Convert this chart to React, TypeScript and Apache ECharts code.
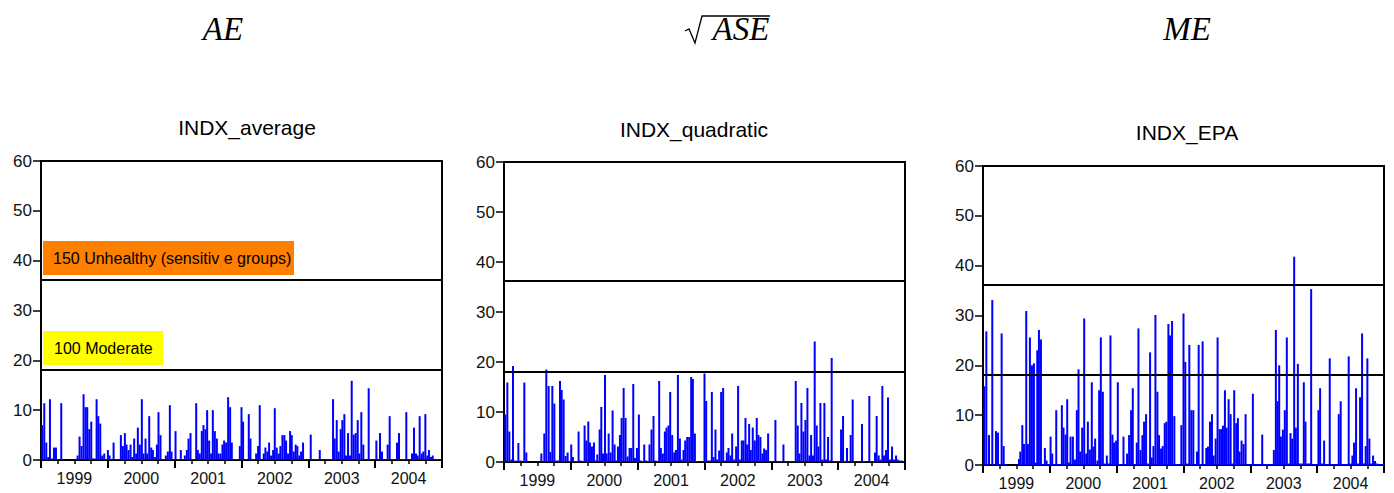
import React, { useEffect, useRef } from 'react';
import * as echarts from 'echarts';

const yearLabels = ['1999', '2000', '2001', '2002', '2003', '2004'];
const yearLabelPositions = [1999.5, 2000.5, 2001.5, 2002.5, 2003.5, 2004.5];
const panelTitles = ['INDX_average', 'INDX_quadratic', 'INDX_EPA'];
const thresholds = [18.1, 36.2];
const bandLabels = ['150 Unhealthy (sensitiv e groups)', '100 Moderate'];

// [decimal year, value]
const avgData: [number, number][] = [
  [1999.019, 7.0], [1999.049, 11.4], [1999.079, 3.5], [1999.109, 0.6], [1999.134, 12.2], [1999.164, 0.3], [1999.194, 2.5], [1999.224, 2.5], [1999.249, 0.2], [1999.303, 11.4], [1999.338, 0.2],
  [1999.548, 0.9], [1999.577, 4.7], [1999.607, 2.8], [1999.637, 13.2], [1999.667, 10.6], [1999.692, 10.6], [1999.722, 6.2], [1999.752, 7.7], [1999.777, 0.3], [1999.802, 0.3], [1999.832, 12.2], [1999.857, 8.8], [1999.887, 7.3], [1999.916, 0.9], [1999.946, 1.3], [1999.971, 0.2],
  [2000.001, 2.0], [2000.026, 0.9], [2000.056, 0.2], [2000.086, 3.5], [2000.116, 0.2], [2000.146, 0.2], [2000.170, 0.2], [2000.195, 5.0], [2000.225, 2.8], [2000.255, 5.4], [2000.280, 3.1], [2000.310, 2.0], [2000.340, 3.1], [2000.365, 0.6], [2000.394, 4.3], [2000.424, 1.3], [2000.449, 6.5], [2000.479, 3.1], [2000.509, 12.2], [2000.534, 1.3], [2000.564, 4.3], [2000.589, 1.3], [2000.619, 8.8], [2000.649, 2.5], [2000.674, 2.0], [2000.704, 0.6], [2000.734, 3.1], [2000.758, 9.6], [2000.788, 5.0], [2000.818, 0.2], [2000.843, 0.2], [2000.868, 0.9], [2000.898, 1.7], [2000.928, 11.0], [2000.953, 1.7], [2000.983, 0.2],
  [2001.013, 5.8], [2001.038, 0.2], [2001.063, 0.2], [2001.092, 2.0], [2001.122, 0.2], [2001.152, 0.9], [2001.182, 2.0], [2001.207, 4.3], [2001.237, 5.4], [2001.267, 0.2], [2001.292, 0.2], [2001.322, 11.4], [2001.347, 2.0], [2001.376, 1.3], [2001.406, 5.8], [2001.431, 7.0], [2001.461, 6.2], [2001.486, 10.0], [2001.516, 3.9], [2001.546, 1.3], [2001.571, 10.0], [2001.601, 5.8], [2001.631, 4.3], [2001.655, 1.3], [2001.685, 1.3], [2001.715, 3.1], [2001.740, 3.9], [2001.770, 3.5], [2001.800, 12.6], [2001.830, 10.6], [2001.855, 3.5], [2001.885, 0.2], [2001.915, 0.2], [2001.945, 0.2], [2001.975, 2.8],
  [2002.000, 10.6], [2002.024, 7.7], [2002.054, 0.2], [2002.079, 0.2], [2002.109, 9.2], [2002.134, 4.3], [2002.164, 0.2], [2002.194, 0.2], [2002.219, 1.3], [2002.248, 2.8], [2002.273, 11.0], [2002.303, 0.2], [2002.333, 1.3], [2002.358, 2.5], [2002.388, 1.7], [2002.413, 3.5], [2002.443, 0.9], [2002.473, 2.0], [2002.498, 10.4], [2002.527, 2.5], [2002.557, 1.3], [2002.582, 2.8], [2002.612, 5.0], [2002.642, 5.0], [2002.667, 3.9], [2002.697, 1.3], [2002.727, 5.8], [2002.752, 5.0], [2002.782, 1.7], [2002.811, 3.1], [2002.836, 2.8], [2002.866, 0.9], [2002.891, 1.7], [2002.921, 3.5], [2002.951, 0.2], [2002.976, 0.2],
  [2003.006, 0.2], [2003.036, 5.1], [2003.066, 0.2], [2003.091, 0.2], [2003.116, 0.2], [2003.141, 0.2], [2003.171, 2.0], [2003.200, 0.2], [2003.230, 0.2], [2003.260, 0.2], [2003.290, 0.2], [2003.320, 0.2], [2003.345, 0.2], [2003.370, 12.2], [2003.395, 4.3], [2003.425, 8.0], [2003.454, 1.7], [2003.484, 6.2], [2003.509, 8.0], [2003.539, 9.2], [2003.564, 0.9], [2003.594, 5.4], [2003.624, 0.9], [2003.649, 15.9], [2003.679, 5.1], [2003.709, 5.4], [2003.739, 8.0], [2003.763, 1.3], [2003.793, 9.6], [2003.823, 3.1], [2003.848, 0.2], [2003.873, 0.2], [2003.903, 14.4], [2003.933, 0.2], [2003.963, 0.2], [2003.988, 0.2],
  [2004.018, 3.9], [2004.047, 0.2], [2004.072, 5.4], [2004.102, 1.7], [2004.132, 0.2], [2004.160, 0.2], [2004.187, 3.1], [2004.217, 8.8], [2004.242, 0.2], [2004.270, 0.2], [2004.300, 0.2], [2004.327, 3.5], [2004.357, 5.4], [2004.387, 0.2], [2004.411, 0.2], [2004.440, 0.2], [2004.466, 9.6], [2004.496, 0.2], [2004.524, 0.2], [2004.551, 1.3], [2004.581, 6.5], [2004.611, 1.3], [2004.636, 0.9], [2004.666, 8.8], [2004.696, 1.3], [2004.721, 1.7], [2004.751, 9.2], [2004.781, 0.9], [2004.806, 2.0], [2004.836, 0.6], [2004.861, 0.9], [2004.891, 0.2], [2004.921, 0.2], [2004.951, 0.2], [2004.980, 0.2],
];

const quadData: [number, number][] = [
  [1999.020, 9.5], [1999.050, 15.9], [1999.080, 6.1], [1999.110, 0.5], [1999.135, 19.2], [1999.170, 0.3], [1999.215, 3.8], [1999.250, 0.3], [1999.304, 15.9], [1999.334, 1.9],
  [1999.559, 1.7], [1999.603, 5.7], [1999.633, 18.5], [1999.668, 15.2], [1999.693, 2.0], [1999.723, 15.2], [1999.753, 11.7], [1999.780, 0.3], [1999.809, 0.3], [1999.838, 16.2], [1999.863, 14.4], [1999.892, 12.5], [1999.922, 1.2], [1999.952, 1.9], [1999.980, 0.2],
  [2000.006, 3.5], [2000.031, 1.0], [2000.060, 0.2], [2000.090, 0.2], [2000.116, 6.1], [2000.147, 0.3], [2000.176, 0.2], [2000.206, 7.3], [2000.231, 4.3], [2000.261, 8.1], [2000.286, 3.9], [2000.316, 3.1], [2000.346, 3.9], [2000.371, 0.3], [2000.396, 1.5], [2000.431, 6.5], [2000.456, 11.0], [2000.481, 1.7], [2000.511, 17.4], [2000.536, 1.7], [2000.566, 5.7], [2000.595, 1.9], [2000.625, 10.3], [2000.655, 3.5], [2000.680, 0.3], [2000.705, 3.1], [2000.735, 5.4], [2000.760, 8.8], [2000.790, 14.8], [2000.819, 8.8], [2000.849, 1.1], [2000.879, 2.8], [2000.904, 2.8], [2000.934, 15.6], [2000.959, 0.8], [2000.989, 2.8],
  [2001.018, 9.5], [2001.043, 0.3], [2001.070, 0.2], [2001.098, 3.5], [2001.128, 0.3], [2001.152, 0.2], [2001.177, 3.5], [2001.207, 6.5], [2001.237, 9.2], [2001.267, 0.3], [2001.295, 0.2], [2001.322, 16.2], [2001.347, 2.8], [2001.377, 1.7], [2001.407, 6.1], [2001.432, 6.9], [2001.462, 7.3], [2001.487, 14.0], [2001.517, 5.4], [2001.547, 1.9], [2001.572, 2.4], [2001.602, 17.4], [2001.632, 4.7], [2001.656, 0.5], [2001.686, 2.4], [2001.711, 4.3], [2001.741, 5.0], [2001.771, 5.0], [2001.801, 17.0], [2001.826, 16.6], [2001.856, 5.7], [2001.886, 0.2], [2001.926, 0.2], [2001.966, 0.2],
  [2002.000, 17.7], [2002.025, 12.2], [2002.055, 0.3], [2002.085, 0.3], [2002.110, 14.0], [2002.135, 1.0], [2002.164, 6.5], [2002.189, 0.5], [2002.219, 2.3], [2002.249, 14.0], [2002.279, 14.8], [2002.304, 0.3], [2002.334, 1.9], [2002.359, 2.8], [2002.389, 1.3], [2002.414, 5.7], [2002.443, 0.5], [2002.473, 3.1], [2002.503, 15.2], [2002.528, 0.5], [2002.558, 4.3], [2002.583, 4.3], [2002.613, 8.8], [2002.638, 3.5], [2002.668, 7.6], [2002.693, 2.4], [2002.722, 6.9], [2002.752, 4.3], [2002.782, 8.8], [2002.807, 5.4], [2002.837, 5.0], [2002.867, 1.7], [2002.892, 2.7], [2002.922, 2.4], [2002.952, 5.7], [2002.977, 0.2],
  [2003.011, 0.2], [2003.036, 0.2], [2003.061, 8.4], [2003.100, 0.2], [2003.130, 0.2], [2003.155, 0.2], [2003.181, 3.5], [2003.206, 0.2], [2003.226, 0.2], [2003.251, 0.2], [2003.276, 0.2], [2003.300, 0.2], [2003.325, 0.2], [2003.345, 0.2], [2003.365, 16.2], [2003.395, 7.3], [2003.420, 1.7], [2003.450, 11.8], [2003.480, 6.1], [2003.510, 8.4], [2003.540, 14.8], [2003.570, 1.3], [2003.595, 5.4], [2003.624, 1.3], [2003.649, 24.1], [2003.679, 7.3], [2003.704, 3.1], [2003.734, 11.8], [2003.764, 0.5], [2003.794, 11.8], [2003.819, 0.5], [2003.849, 5.0], [2003.878, 0.3], [2003.903, 20.8], [2003.933, 0.2], [2003.953, 0.2], [2003.973, 0.2],
  [2004.008, 0.2], [2004.043, 6.5], [2004.073, 9.2], [2004.098, 0.2], [2004.132, 2.8], [2004.157, 0.2], [2004.187, 5.4], [2004.217, 12.5], [2004.257, 0.2], [2004.297, 0.2], [2004.327, 0.2], [2004.357, 7.6], [2004.387, 0.2], [2004.421, 0.2], [2004.445, 0.2], [2004.466, 13.2], [2004.496, 0.2], [2004.525, 0.2], [2004.551, 1.9], [2004.576, 9.2], [2004.606, 1.3], [2004.631, 0.5], [2004.661, 15.2], [2004.686, 1.3], [2004.716, 2.4], [2004.746, 12.9], [2004.776, 0.5], [2004.806, 3.1], [2004.836, 0.5], [2004.866, 1.3], [2004.890, 0.5], [2004.920, 0.3], [2004.950, 0.3], [2004.975, 0.2],
];

const epaData: [number, number][] = [
  [1999.020, 15.8], [1999.050, 26.8], [1999.090, 6.0], [1999.139, 33.1], [1999.194, 6.8], [1999.224, 6.5], [1999.279, 26.4], [1999.309, 3.8], [1999.339, 0.2],
  [1999.538, 1.2], [1999.558, 2.7], [1999.588, 8.0], [1999.613, 4.2], [1999.647, 30.9], [1999.672, 4.2], [1999.702, 25.6], [1999.732, 20.0], [1999.762, 20.4], [1999.787, 0.5], [1999.812, 23.0], [1999.837, 27.1], [1999.867, 25.2], [1999.896, 0.2], [1999.926, 3.4], [1999.951, 0.9], [1999.981, 0.2],
  [2000.011, 5.7], [2000.036, 2.3], [2000.066, 0.2], [2000.096, 11.0], [2000.126, 0.2], [2000.155, 0.2], [2000.180, 12.0], [2000.205, 7.5], [2000.235, 6.1], [2000.260, 13.2], [2000.285, 0.5], [2000.310, 5.7], [2000.345, 5.7], [2000.375, 1.1], [2000.404, 11.0], [2000.429, 19.2], [2000.454, 2.7], [2000.484, 7.5], [2000.514, 29.4], [2000.544, 2.3], [2000.569, 8.7], [2000.599, 3.1], [2000.628, 16.6], [2000.653, 3.7], [2000.678, 5.3], [2000.713, 0.9], [2000.738, 15.0], [2000.763, 25.6], [2000.793, 14.7], [2000.818, 0.3], [2000.853, 1.9], [2000.882, 0.3], [2000.907, 26.0], [2000.937, 6.1], [2000.962, 4.5], [2000.992, 4.9],
  [2001.017, 16.6], [2001.047, 0.2], [2001.072, 0.2], [2001.102, 5.7], [2001.127, 0.2], [2001.156, 2.3], [2001.186, 6.0], [2001.216, 11.0], [2001.241, 15.4], [2001.271, 0.2], [2001.301, 4.5], [2001.326, 27.4], [2001.356, 3.0], [2001.385, 6.0], [2001.410, 8.7], [2001.440, 10.2], [2001.465, 0.3], [2001.500, 22.6], [2001.525, 1.5], [2001.550, 3.8], [2001.580, 30.1], [2001.610, 14.7], [2001.634, 6.0], [2001.664, 3.3], [2001.689, 3.8], [2001.719, 8.4], [2001.744, 8.7], [2001.774, 28.3], [2001.799, 26.0], [2001.829, 28.9], [2001.863, 9.8], [2001.893, 0.2], [2001.933, 0.2], [2001.968, 8.0],
  [2002.000, 30.4], [2002.027, 20.7], [2002.057, 0.3], [2002.087, 24.1], [2002.117, 11.0], [2002.147, 11.0], [2002.172, 0.2], [2002.202, 2.7], [2002.227, 24.1], [2002.257, 0.2], [2002.286, 24.8], [2002.316, 0.2], [2002.341, 3.4], [2002.366, 3.7], [2002.396, 8.7], [2002.426, 10.2], [2002.451, 1.9], [2002.481, 5.3], [2002.510, 25.6], [2002.540, 7.2], [2002.565, 7.2], [2002.590, 7.9], [2002.620, 15.0], [2002.645, 7.5], [2002.675, 13.2], [2002.705, 10.2], [2002.730, 0.3], [2002.759, 15.0], [2002.789, 8.4], [2002.814, 9.4], [2002.839, 2.7], [2002.869, 4.9], [2002.899, 4.2], [2002.929, 10.2], [2002.959, 0.2], [2002.999, 0.2],
  [2003.038, 14.3], [2003.068, 0.2], [2003.098, 0.2], [2003.128, 0.2], [2003.153, 0.2], [2003.178, 6.1], [2003.208, 0.2], [2003.238, 0.2], [2003.268, 0.2], [2003.298, 0.2], [2003.328, 0.2], [2003.352, 3.0], [2003.382, 27.1], [2003.407, 12.8], [2003.432, 20.0], [2003.457, 5.7], [2003.487, 7.1], [2003.516, 11.0], [2003.546, 25.6], [2003.571, 0.3], [2003.601, 6.4], [2003.626, 5.3], [2003.656, 41.8], [2003.681, 7.5], [2003.711, 20.3], [2003.741, 0.3], [2003.770, 0.3], [2003.800, 16.6], [2003.825, 8.7], [2003.855, 0.3], [2003.880, 0.3], [2003.910, 35.3], [2003.940, 0.2], [2003.970, 0.2], [2003.995, 0.2],
  [2004.019, 11.0], [2004.044, 15.4], [2004.074, 0.3], [2004.104, 4.9], [2004.134, 0.2], [2004.163, 0.2], [2004.188, 21.4], [2004.218, 0.2], [2004.248, 0.2], [2004.293, 0.2], [2004.323, 10.2], [2004.352, 12.8], [2004.382, 0.2], [2004.412, 0.2], [2004.442, 0.2], [2004.472, 21.8], [2004.497, 0.3], [2004.527, 1.9], [2004.552, 4.5], [2004.582, 15.4], [2004.612, 0.3], [2004.642, 13.6], [2004.672, 26.4], [2004.701, 0.3], [2004.726, 3.8], [2004.751, 21.4], [2004.781, 5.3], [2004.811, 0.3], [2004.836, 1.9], [2004.866, 0.8], [2004.896, 0.3], [2004.925, 0.2], [2004.955, 0.2], [2004.985, 0.2],
];

const panelData = [avgData, quadData, epaData];

const SANS = '"Liberation Sans", Arial, Helvetica, sans-serif';
const SERIF = '"Liberation Serif", "Times New Roman", serif';

const grids = [
  { left: 41, top: 161, width: 401, height: 299 },
  { left: 504, top: 162, width: 401, height: 300 },
  { left: 983, top: 166, width: 401, height: 299 },
];
const titleCenters = [242, 689, 1182];
const titleTops = [112, 114, 117];

export default function App() {
  const ref = useRef<HTMLDivElement>(null);
  useEffect(() => {
    document.body.style.margin = '0';
    if (!ref.current) return;
    const chart = echarts.init(ref.current, undefined, { renderer: 'svg' });

    const xAxes = grids.map((_, i) => ({
      gridIndex: i,
      type: 'value',
      min: 1999,
      max: 2005,
      interval: 1,
      axisLine: { show: true, onZero: false, lineStyle: { color: '#000', width: 2 } },
      axisTick: { show: true, length: 8, lineStyle: { color: '#000', width: 2 } },
      minorTick: { show: true, splitNumber: 4, length: 4, lineStyle: { color: '#000', width: 1.5 } },
      splitLine: { show: false },
      minorSplitLine: { show: false },
      axisLabel: {
        customValues: yearLabelPositions,
        formatter: (v: number) => yearLabels[Math.floor(v) - 1999] ?? '',
        fontSize: 16,
        fontFamily: SANS,
        color: '#111',
        margin: 10,
      },
    }));

    const yAxes = grids.map((_, i) => ({
      gridIndex: i,
      type: 'value',
      min: 0,
      max: 60,
      interval: 10,
      axisLine: { show: true, lineStyle: { color: '#000', width: 2 } },
      axisTick: { show: true, length: 8, lineStyle: { color: '#000', width: 1.5 } },
      splitLine: { show: false },
      axisLabel: {
        fontSize: 17,
        fontFamily: SANS,
        color: '#111',
        margin: 9,
        padding: [0, 0, 6, 0],
      },
    }));

    const series = panelData.map((d, i) => ({
      type: 'bar',
      xAxisIndex: i,
      yAxisIndex: i,
      data: d,
      barWidth: 2,
      itemStyle: { color: '#0000ff' },
      markLine: {
        silent: true,
        symbol: 'none',
        label: { show: false },
        lineStyle: { color: '#000', width: 2, type: 'solid' },
        data: thresholds.map((v) => ({ yAxis: v })),
      },
    }));

    const titles: any[] = panelTitles.map((t, i) => ({
      text: t,
      left: titleCenters[i],
      top: titleTops[i],
      textAlign: 'center',
      textStyle: { fontFamily: SANS, fontSize: 21, fontWeight: 'normal', color: '#000' },
    }));
    const mathStyle = { fontFamily: SERIF, fontSize: 33, fontStyle: 'italic', fontWeight: 'normal', color: '#000' };
    titles.push({ text: 'AE', left: 218, top: 7, textAlign: 'center', textStyle: mathStyle });
    titles.push({ text: 'ASE', left: 736, top: 7, textAlign: 'center', textStyle: mathStyle });
    titles.push({ text: 'ME', left: 1182, top: 7, textAlign: 'center', textStyle: mathStyle });

    const g0 = grids[0];
    chart.setOption({
      animation: false,
      backgroundColor: '#fff',
      title: titles,
      grid: grids.map((g) => ({ ...g, show: true, borderColor: '#000', borderWidth: 2, containLabel: false })),
      xAxis: xAxes,
      yAxis: yAxes,
      series,
      graphic: [
        {
          type: 'polyline',
          shape: { points: [[685, 31], [689, 29], [695, 43], [702, 16], [770, 16]] },
          style: { stroke: '#000', lineWidth: 1.3, fill: 'none' },
        },
        {
          type: 'rect',
          shape: { x: g0.left + 2, y: 241, width: 251, height: 34 },
          style: { fill: '#ff7f00' },
        },
        {
          type: 'text',
          x: g0.left + 12,
          y: 258,
          style: { text: bandLabels[0], font: `16px ${SANS}`, fill: '#000', verticalAlign: 'middle' },
        },
        {
          type: 'rect',
          shape: { x: g0.left + 2, y: 331, width: 120, height: 34 },
          style: { fill: '#ffff00' },
        },
        {
          type: 'text',
          x: g0.left + 13,
          y: 348,
          style: { text: bandLabels[1], font: `16px ${SANS}`, fill: '#000', verticalAlign: 'middle' },
        },
      ],
    });
    return () => chart.dispose();
  }, []);
  return <div ref={ref} style={{ width: 1394, height: 493 }} />;
}
